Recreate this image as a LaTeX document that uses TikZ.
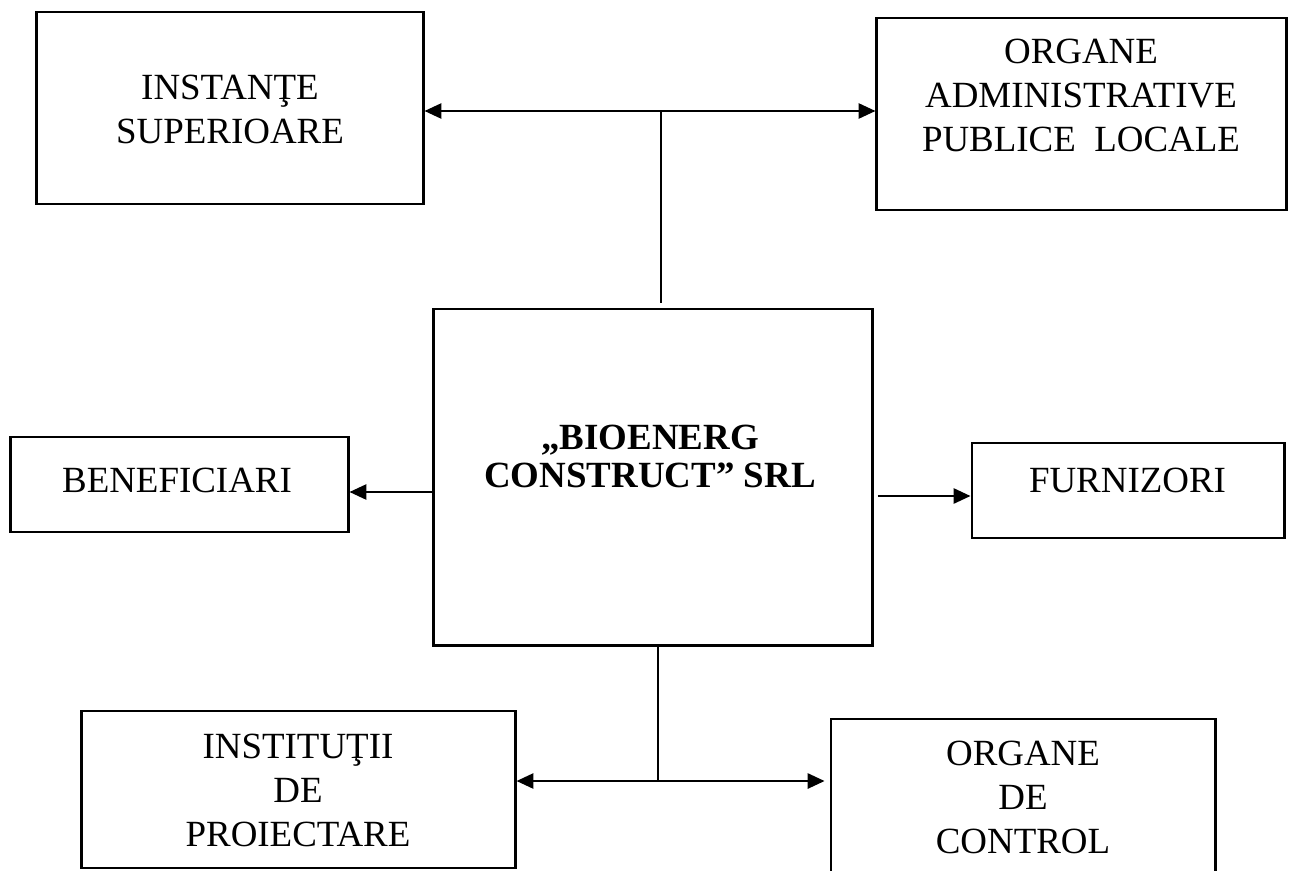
\documentclass[tikz,border=0pt]{standalone}
\usepackage{fontspec}
\setmainfont{Liberation Serif}
\usepackage{tikz}
\usetikzlibrary{arrows.meta,calc,positioning}

\begin{document}
\begin{tikzpicture}[x=0.01cm, y=-0.01cm, >={Triangle[length=4.8pt,width=4.3pt]},
    box/.style={draw, line width=0.8pt, inner sep=0pt},
    txt/.style={align=center, inner sep=0pt, font=\fontsize{10.5}{12.4}\selectfont},
    link/.style={line width=0.65pt}]
    \useasboundingbox (0,0) rectangle (1289,870);

    % Boxes
    \node[box, minimum width=3.86cm, minimum height=1.92cm] (sup) at (230,108) {};
    \node[box, minimum width=4.09cm, minimum height=1.92cm] (adm) at (1081.5,114) {};
    \node[box, minimum width=4.38cm, minimum height=3.36cm] (ctr) at (653,477) {};
    \node[box, minimum width=3.37cm, minimum height=0.95cm] (ben) at (179.5,484.5) {};
    \node[box, minimum width=3.12cm, minimum height=0.95cm] (furn) at (1128,490.5) {};
    \node[box, minimum width=4.33cm, minimum height=1.57cm] (inst) at (298.5,789.5) {};
    \node[box, minimum width=3.84cm, minimum height=1.53cm] (ctrl) at (1023,795.5) {};

    % Texts
    \node[txt] (sup-t) at (230,109.5) {INSTANŢE\\SUPERIOARE};
    \node[txt] (adm-t) at (1081,95.5) {ORGANE\\ADMINISTRATIVE\\PUBLICE~~LOCALE};
    \node[txt, font=\fontsize{10.5}{10.8}\selectfont\bfseries] (ctr-t) at (650,456) {„BIOENERG\\CONSTRUCT” SRL};
    \node[txt] (ben-t) at (177,480) {BENEFICIARI};
    \node[txt] (furn-t) at (1127.5,480) {FURNIZORI};
    \node[txt] (inst-t) at (298,790.5) {INSTITUŢII\\DE\\PROIECTARE};
    \node[txt] (ctrl-t) at (1023,797.5) {ORGANE\\DE\\CONTROL};

    % Connectors
    \coordinate (tj) at (661,111);
    \coordinate (bj) at (658,781);
    \coordinate (lj) at ($(ben.east)+(0,7.5)$);
    \coordinate (rj) at ($(furn.west)+(0,5.5)$);

    \draw[link, <->] (sup.east |- tj) -- (adm.west |- tj);
    \draw[link, shorten >=1.2pt] (tj) -- (ctr.north -| tj);
    \draw[link, ->] (ctr.west |- lj) -- (lj);
    \draw[link, ->, shorten <=1.2pt] (ctr.east |- rj) -- (rj);
    \draw[link] (ctr.south -| bj) -- (bj);
    \draw[link, <->, shorten >=1.4pt] (inst.east |- bj) -- (ctrl.west |- bj);
\end{tikzpicture}
\end{document}
